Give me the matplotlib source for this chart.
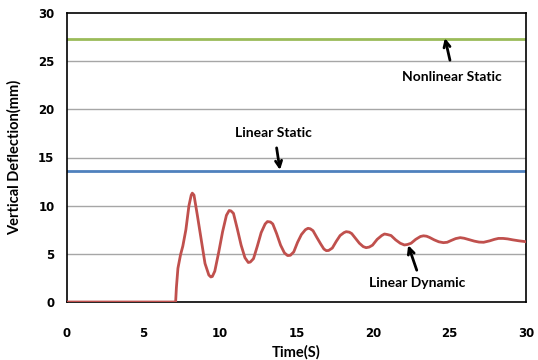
import matplotlib
matplotlib.use("Agg")
import matplotlib.pyplot as plt

time_s = [0, 7.1, 7.15, 7.25, 7.42, 7.57, 7.77, 7.97, 8.12, 8.19, 8.3, 8.52, 8.77, 9.02,
          9.27, 9.4, 9.5, 9.66, 9.92, 10.17, 10.42, 10.6, 10.72, 10.88, 11.13, 11.38, 11.63,
          11.85, 11.98, 12.19, 12.44, 12.69, 12.95, 13.1, 13.3, 13.45, 13.7, 13.96, 14.21, 14.42, 14.6,
          14.82, 15.07, 15.32, 15.58, 15.75, 15.9, 16.08, 16.33, 16.59, 16.79, 16.95, 17.1,
          17.34, 17.6, 17.85, 18.1, 18.25, 18.45, 18.61, 18.86, 19.11, 19.36, 19.55, 19.75,
          19.97, 20.27, 20.57, 20.75, 20.95, 21.18, 21.48, 21.78, 22.05, 22.25, 22.49, 22.79,
          23.1, 23.3, 23.5, 23.7, 24.0, 24.3, 24.6, 24.85, 25.1, 25.4, 25.7, 25.95, 26.22,
          26.62, 26.93, 27.23, 27.63, 27.93, 28.2, 28.5, 28.8, 29.14, 29.54, 29.9, 30.0]
linear_dynamic = [0, 0, 1.5, 3.5, 4.9, 5.8, 7.5, 10.0, 11.1, 11.3, 11.1, 9.0, 6.5, 4.0,
                  2.8, 2.6, 2.65, 3.2, 5.2, 7.3, 9.0, 9.5, 9.45, 9.2, 7.6, 5.9, 4.6,
                  4.1, 4.15, 4.5, 5.8, 7.2, 8.1, 8.35, 8.3, 8.1, 7.1, 5.9, 5.1, 4.82, 4.85,
                  5.2, 6.2, 7.0, 7.5, 7.65, 7.6, 7.4, 6.7, 6.0, 5.5, 5.33, 5.35,
                  5.6, 6.3, 6.9, 7.2, 7.3, 7.25, 7.1, 6.6, 6.1, 5.75, 5.64, 5.7,
                  5.9, 6.5, 6.9, 7.06, 7.0, 6.9, 6.45, 6.1, 5.92, 5.97, 6.1, 6.5,
                  6.8, 6.87, 6.83, 6.7, 6.45, 6.25, 6.16, 6.2, 6.38, 6.58, 6.68, 6.62, 6.5,
                  6.32, 6.22, 6.2, 6.35, 6.5, 6.6, 6.6, 6.55, 6.45, 6.35, 6.28, 6.25]
linear_static = 13.6
nonlinear_static = 27.3
x_ticks = [0, 5, 10, 15, 20, 25, 30]
y_ticks = [0, 5, 10, 15, 20, 25, 30]

fig = plt.figure(figsize=(5.38, 3.6), dpi=100)
ax = fig.add_axes([67/538, 58/360, 459/538, 289/360])

for y in y_ticks[1:-1]:
    ax.axhline(y, color="#a6a6a6", lw=1.0, zorder=1)

ax.axhline(nonlinear_static, color="#9BBB59", lw=2.0, zorder=2)
ax.axhline(linear_static, color="#4F81BD", lw=2.0, zorder=2)
ax.plot(time_s, linear_dynamic, color="#C0504D", lw=2.0, zorder=3,
        solid_joinstyle="round")

ax.set_xlim(0, 30)
ax.set_ylim(0, 30)
ax.set_xticks(x_ticks)
ax.set_yticks(y_ticks)
ax.tick_params(length=0, labelsize=8.5)
ax.tick_params(axis="x", pad=18)
ax.tick_params(axis="y", pad=9)
for lab in ax.get_xticklabels() + ax.get_yticklabels():
    lab.set_fontweight("bold")
    lab.set_family("DejaVu Sans")
for s in ax.spines.values():
    s.set_color("black")
    s.set_linewidth(1.2)

ax.set_xlabel("Time(S)", fontsize=10.5, fontweight="bold", family="Lato", labelpad=4)
ax.set_ylabel("Vertical Deflection(mm)", fontsize=10.5, fontweight="bold", family="Lato", labelpad=12)

arrow = dict(arrowstyle="->,head_length=0.45,head_width=0.22", color="black", lw=2,
             shrinkA=0, shrinkB=0)
tkw = dict(fontsize=10, fontweight="bold", family="Lato", ha="center", va="center")
ax.annotate("", xy=(24.7, 27.4), xytext=(25.03, 25.1), arrowprops=arrow)
ax.text(25.14, 23.4, "Nonlinear Static", **tkw)
ax.annotate("", xy=(13.92, 13.7), xytext=(13.7, 16.0), arrowprops=arrow)
ax.text(13.46, 17.55, "Linear Static", **tkw)
ax.annotate("", xy=(22.3, 5.9), xytext=(22.86, 3.3), arrowprops=arrow)
ax.text(22.9, 1.97, "Linear Dynamic", **tkw)

fig.savefig("out.png", dpi=100)
